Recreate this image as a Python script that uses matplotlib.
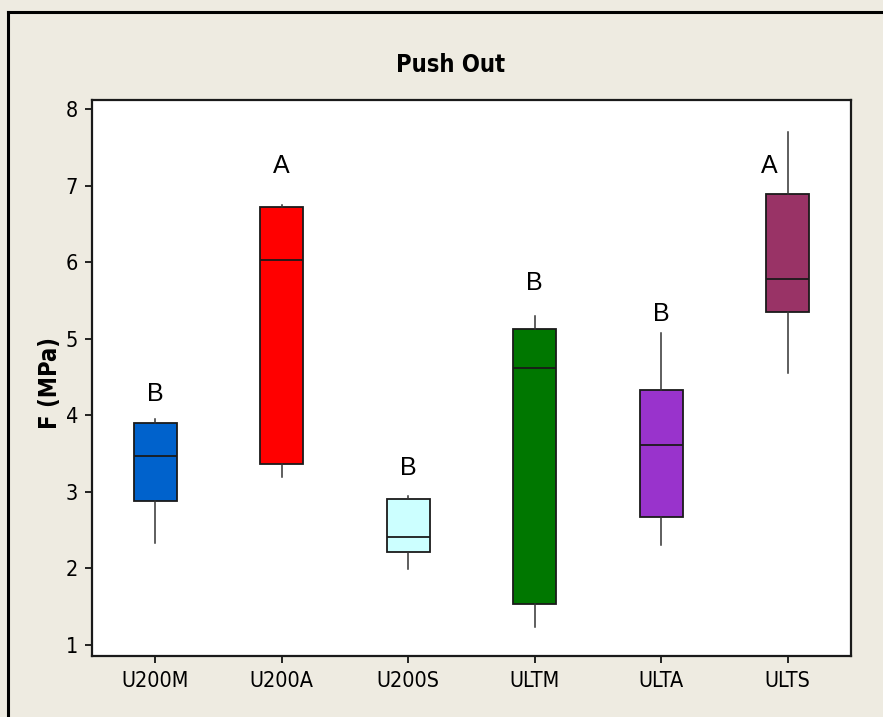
import matplotlib
matplotlib.use("Agg")
import matplotlib.pyplot as plt
from matplotlib.lines import Line2D

categories = ["U200M", "U200A", "U200S", "ULTM", "ULTA", "ULTS"]
whisker_low = [2.33, 3.20, 1.99, 1.24, 2.31, 4.55]
q1 = [2.88, 3.36, 2.21, 1.53, 2.67, 5.35]
median = [3.47, 6.03, 2.41, 4.62, 3.61, 5.78]
q3 = [3.90, 6.73, 2.91, 5.13, 4.33, 6.90]
whisker_high = [3.96, 6.75, 2.95, 5.30, 5.08, 7.71]
group_letters = ["B", "A", "B", "B", "B", "A"]
letter_y = [4.28, 7.26, 3.31, 5.73, 5.33, 7.26]
letter_dx = [0, 0, 0, 0, 0, -0.15]
box_colors = ["#0062cc", "#ff0000", "#ccffff", "#007700", "#9933cc", "#993366"]
yticks = [1, 2, 3, 4, 5, 6, 7, 8]

plt.rcParams['font.family'] = ['DejaVu Sans']
plt.rcParams['font.stretch'] = 'condensed'

bg = "#eeebe1"
fig = plt.figure(figsize=(8.83, 7.17), dpi=100, facecolor=bg)
ax = fig.add_axes([92/883, 1-656/717, 759/883, 556/717])
ax.set_facecolor("white")

stats = []
for i, c in enumerate(categories):
    stats.append(dict(label=c, whislo=whisker_low[i], q1=q1[i], med=median[i],
                      q3=q3[i], whishi=whisker_high[i], fliers=[]))
pos = list(range(len(categories)))
bp = ax.bxp(stats, positions=pos, widths=0.34, patch_artist=True,
            showcaps=False, showfliers=False,
            boxprops=dict(linewidth=1.3, edgecolor="#1a1a1a"),
            medianprops=dict(color="#1a1a1a", linewidth=1.3),
            whiskerprops=dict(color="#333333", linewidth=1.1))
for patch, col in zip(bp['boxes'], box_colors):
    patch.set_facecolor(col)

for i, (lt, ly) in enumerate(zip(group_letters, letter_y)):
    ax.text(pos[i] + letter_dx[i], ly, lt, ha="center", va="center",
            fontsize=18, family=["Liberation Sans", "DejaVu Sans"],
            fontstretch="normal", color="black")

ax.set_xlim(-0.5, 5.5)
ax.set_ylim(0.856, 8.124)
ax.set_yticks(yticks)
ax.set_xticks(pos)
ax.set_xticklabels(categories)
ax.tick_params(axis="both", direction="out", length=5, width=1.2, labelsize=15.5,
               colors="black", pad=5)
ax.tick_params(axis="x", pad=6)
for s in ax.spines.values():
    s.set_linewidth(1.6)
    s.set_color("#1a1a1a")

ax.set_ylabel("F (MPa)", fontsize=17, fontweight="bold")
ax.yaxis.set_label_coords(-30/759, 0.491)

fig.text(451/883, 1-65/717, "Push Out", ha="center", va="center",
         fontsize=17, fontweight="bold")

fig.add_artist(Line2D([8/883, 8/883], [0, 1-12/717], transform=fig.transFigure,
                      color="black", linewidth=2.2))
fig.add_artist(Line2D([8/883, 1], [1-12/717, 1-12/717], transform=fig.transFigure,
                      color="black", linewidth=2.2))

fig.savefig("out.png", dpi=100, facecolor=bg)
